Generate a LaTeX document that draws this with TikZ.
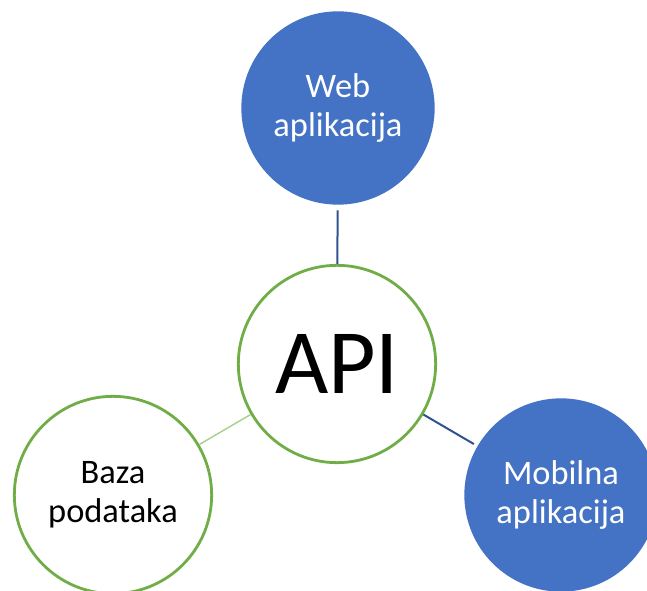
\documentclass[tikz,border=0pt]{standalone}
\usepackage{fontspec}
\setmainfont{Carlito}
\definecolor{apiblue}{HTML}{4472C4}
\definecolor{linkblue}{HTML}{2F528F}
\definecolor{apigreen}{HTML}{70AD47}
\definecolor{lightgreen}{HTML}{A9D18E}
\tikzset{
  bluecircle/.style={circle,fill=apiblue,text=white,align=center,minimum size=145pt,inner sep=0pt,font=\fontsize{25.8}{29}\selectfont},
  greencircle/.style={circle,draw=apigreen,line width=2.1pt,fill=white,align=center,minimum size=148pt,inner sep=0pt,font=\fontsize{25.8}{29}\selectfont},
  bluelink/.style={draw=linkblue,line width=1.5pt},
  greenlink/.style={draw=lightgreen,line width=1.1pt}
}
\begin{document}
\begin{tikzpicture}[x=0.75pt,y=-0.75pt]
\useasboundingbox (0,0) rectangle (647,591);

\node[greencircle,font=\fontsize{69}{72}\selectfont] (api) at (337,364) {API};
\node[bluecircle] (web) at (338,108) {Web\\aplikacija};
\node[bluecircle] (mob) at (561,495) {Mobilna\\aplikacija};
\node[greencircle] (baza) at (113,495) {Baza\\podataka};

\draw[bluelink,shorten <=4pt] (web) -- (api);
\draw[bluelink,shorten >=3pt] (api) -- (mob);
\draw[greenlink] (baza) -- (api);
\end{tikzpicture}
\end{document}
